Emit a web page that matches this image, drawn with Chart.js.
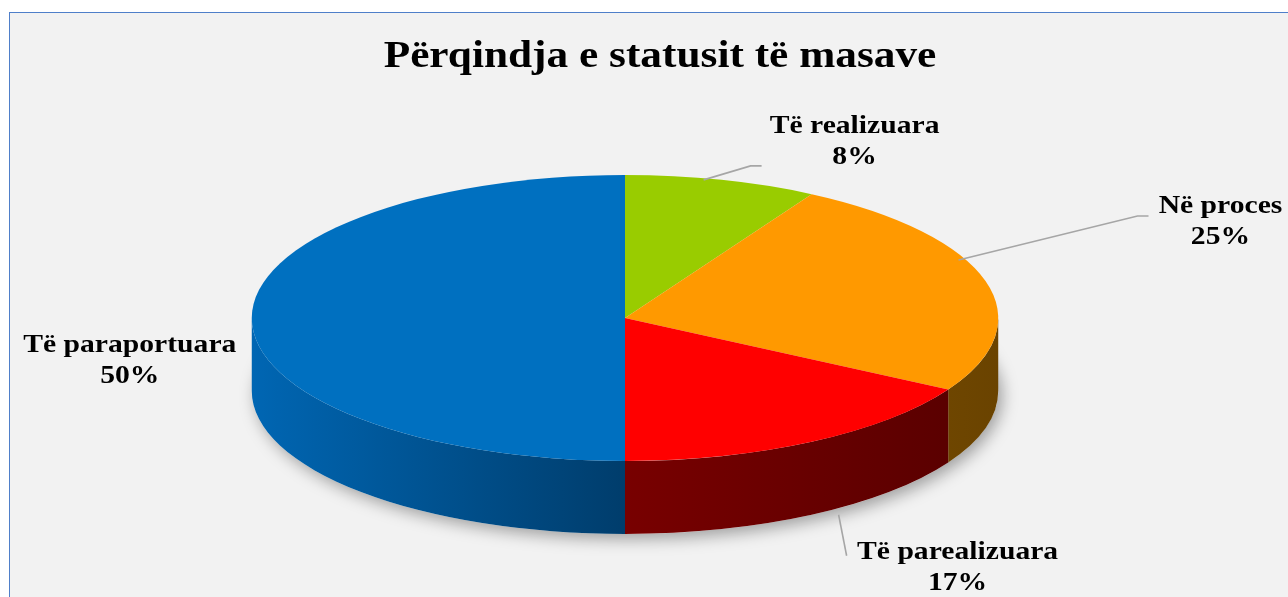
<!DOCTYPE html>
<html>
<head>
<meta charset="utf-8">
<script src="https://cdn.jsdelivr.net/npm/chart.js@4.4.1/dist/chart.umd.min.js"></script>
<style>
  html, body { margin: 0; padding: 0; background: #ffffff; overflow: hidden; }
  #frame { position: absolute; left: 9px; top: 12px; width: 1300px; height: 600px; background: #f2f2f2; border: 1px solid #4f7fc9; }
  #wrap { position: absolute; left: 0; top: 0; width: 1288px; height: 597px; }
</style>
</head>
<body>
<div id="frame"></div>
<div id="wrap"><canvas id="status-chart"></canvas></div>
<script>
const chartTitle = "Përqindja e statusit të masave";
const categories = ["Të realizuara", "Në proces", "Të parealizuara", "Të paraportuara"];
const measureCounts = [1, 3, 2, 6];

const sliceColors = ["#99cc00", "#ff9900", "#ff0000", "#0070c0"];
// side wall shading, stops across the full pie width (left -> right)
const wallStops = [
  [[0, "#6e9300"], [1, "#5a7800"]],
  [[0.5, "#8a5800"], [1, "#6a4300"]],
  [[0.5, "#780000"], [1, "#560000"]],
  [[0, "#0066b3"], [0.5, "#003d6c"]],
];
// label centre relative to the outer edge point of each slice
const labelOffsets = [[133, -38], [235, -59], [146, 53], [-122, 43]];
// leader line points relative to the same edge point
const leaderPaths = [
  [[-18, 0], [29, -14], [40, -14]],
  [[-27, -21], [152, -65], [163, -65]],
  [[27, 0], [35, 41]],
  [],
];

const STRETCH = 2.61;      // horizontal stretch of the flat pie
const DEPTH = 0.51;        // wall height relative to radius
const TEXT_STRETCH = 1.14; // the original text is a bit wide

const total = measureCounts.reduce((a, b) => a + b, 0);
const percentLabels = measureCounts.map((v) => Math.round((v * 100) / total) + "%");

function edgePoint(arc) {
  const rx = arc.outerRadius * STRETCH;
  const depth = arc.outerRadius * DEPTH;
  const mid = (arc.startAngle + arc.endAngle) / 2;
  const sin = Math.sin(mid);
  return {
    x: arc.x + rx * Math.cos(mid),
    y: arc.y + arc.outerRadius * sin + (sin > 0.01 ? depth : 0),
  };
}

function wideText(ctx, text, x, y) {
  ctx.save();
  ctx.translate(x, y);
  ctx.scale(TEXT_STRETCH, 1);
  ctx.fillText(text, 0, 0);
  ctx.restore();
}

const pie3d = {
  id: "pie3d",
  beforeDatasetsDraw(chart) {
    const ctx = chart.ctx;
    const arcs = chart.getDatasetMeta(0).data;
    const { x: cx, y: cy, outerRadius: r } = arcs[0];
    const rx = r * STRETCH;
    const depth = r * DEPTH;

    // soft shadow under the base
    ctx.save();
    ctx.shadowColor = "rgba(0,0,0,0.35)";
    ctx.shadowBlur = 16;
    ctx.shadowOffsetX = 4;
    ctx.shadowOffsetY = 5;
    ctx.fillStyle = "#f2f2f2";
    ctx.beginPath();
    ctx.ellipse(cx, cy + depth, rx, r, 0, 0, Math.PI * 2);
    ctx.fill();
    ctx.restore();

    // front walls
    arcs.forEach((arc, i) => {
      const grad = ctx.createLinearGradient(cx - rx, 0, cx + rx, 0);
      wallStops[i].forEach(([stop, color]) => grad.addColorStop(stop, color));
      for (const k of [-1, 0, 1]) {
        const a = Math.max(arc.startAngle, k * 2 * Math.PI);
        const b = Math.min(arc.endAngle, Math.PI + k * 2 * Math.PI);
        if (a >= b) continue;
        ctx.beginPath();
        ctx.ellipse(cx, cy, rx, r, 0, a, b, false);
        ctx.ellipse(cx, cy + depth, rx, r, 0, b, a, true);
        ctx.closePath();
        ctx.fillStyle = grad;
        ctx.fill();
      }
    });

    // top faces are drawn by the library in a stretched context
    ctx.save();
    ctx.translate(cx, cy);
    ctx.scale(STRETCH, 1);
    ctx.translate(-cx, -cy);
  },
  afterDatasetsDraw(chart) {
    chart.ctx.restore();
  },
  afterDraw(chart) {
    const ctx = chart.ctx;
    const arcs = chart.getDatasetMeta(0).data;

    ctx.save();
    ctx.fillStyle = "#000000";
    ctx.textAlign = "center";
    ctx.textBaseline = "alphabetic";
    ctx.font = "bold 38px 'Liberation Serif', 'Times New Roman', serif";
    wideText(ctx, chartTitle, 660, 67);

    ctx.strokeStyle = "#a6a6a6";
    ctx.lineWidth = 1.6;
    arcs.forEach((arc, i) => {
      const p = edgePoint(arc);
      const path = leaderPaths[i];
      if (path.length) {
        ctx.beginPath();
        path.forEach(([dx, dy], j) => {
          if (j === 0) ctx.moveTo(p.x + dx, p.y + dy);
          else ctx.lineTo(p.x + dx, p.y + dy);
        });
        ctx.stroke();
      }
      const tx = p.x + labelOffsets[i][0];
      const ty = p.y + labelOffsets[i][1];
      ctx.font = "bold 26px 'Liberation Serif', 'Times New Roman', serif";
      ctx.textBaseline = "middle";
      wideText(ctx, categories[i], tx, ty - 15.5);
      wideText(ctx, percentLabels[i], tx, ty + 15.5);
    });
    ctx.restore();
  },
};

const chart = new Chart(document.getElementById("status-chart"), {
  type: "pie",
  data: {
    labels: categories,
    datasets: [{
      data: measureCounts,
      backgroundColor: sliceColors,
      borderWidth: 0,
      clip: false,
    }],
  },
  options: {
    animation: false,
    responsive: true,
    maintainAspectRatio: false,
    events: [],
    layout: { padding: { left: 400, right: 438, top: 175, bottom: 136 } },
    plugins: {
      legend: { display: false },
      tooltip: { enabled: false },
      title: { display: false },
    },
  },
  plugins: [pie3d],
});
</script>
</body>
</html>
